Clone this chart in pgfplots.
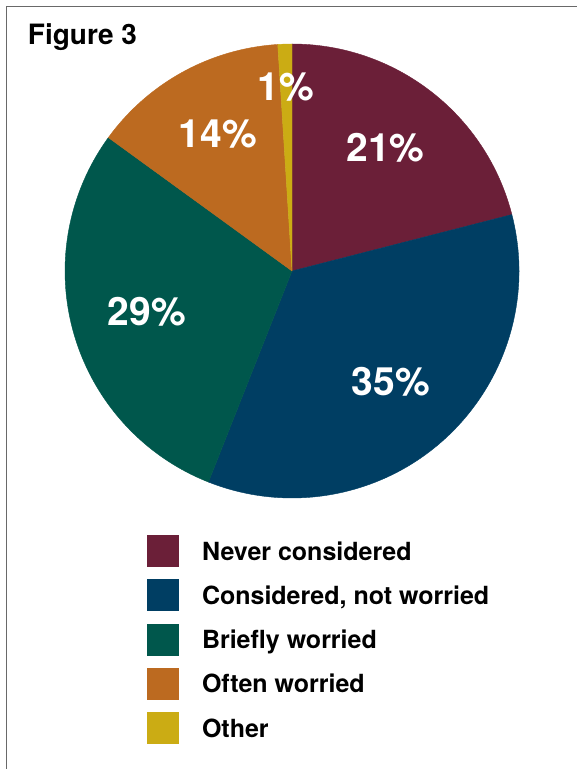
\documentclass[border=0pt]{standalone}
\usepackage{fontspec}
\setmainfont{TeX Gyre Heros}
\usepackage{pgfplots}
\usepackage{pgfplotstable}
\pgfplotsset{compat=1.18}
\definecolor{never}{RGB}{107,31,56}
\definecolor{notworried}{RGB}{0,62,99}
\definecolor{briefly}{RGB}{0,87,76}
\definecolor{often}{RGB}{188,106,32}
\definecolor{other}{RGB}{203,172,20}
\definecolor{framegray}{RGB}{105,105,105}
\tikzset{pielabel/.style={text=white, inner sep=0pt, anchor=center,
    font=\fontsize{19.5}{21}\selectfont\bfseries}}

% share (%) of each group, label position in px (x right, y down)
\pgfplotstableread[col sep=semicolon]{
label;value;color;lx;ly
Never considered;21;never;385.5;147.5
Considered, not worried;35;notworried;391;381.5
Briefly worried;29;briefly;147;311.5
Often worried;14;often;218;133.7
Other;1;other;285.5;87
}\piedata

\begin{document}
\begin{tikzpicture}
\begin{axis}[
  name=ax,
  at={(0,0)}, anchor=south west,
  scale only axis, width=288.5pt, height=384.5pt,
  xmin=0, xmax=577, ymin=0, ymax=769, y dir=reverse,
  hide axis, clip=false,
  legend style={at={(axis cs:147,535)}, anchor=north west,
    draw=none, fill=none, inner sep=0pt, outer sep=0pt,
    row sep=6.125pt, column sep=11.5pt,
    font=\fontsize{12.5}{14}\selectfont\bfseries,
    nodes={inner sep=0pt, text height=9pt, text depth=0pt}},
  legend cell align=left,
  legend image code/.code={\fill[#1, draw=none] (0pt,-8pt) rectangle (16pt,8pt);},
]
\pgfplotstablegetrowsof{\piedata}
\pgfmathtruncatemacro\N{\pgfplotsretval-1}
\def\cum{0}
\pgfplotsforeachungrouped \ii in {0,...,\N}{%
  \pgfplotstablegetelem{\ii}{value}\of\piedata \let\pv\pgfplotsretval
  \pgfplotstablegetelem{\ii}{color}\of\piedata \let\pc\pgfplotsretval
  \pgfplotstablegetelem{\ii}{label}\of\piedata \let\plab\pgfplotsretval
  \pgfmathsetmacro\pa{90-3.6*\cum}%
  \pgfmathsetmacro\cum{\cum+\pv}%
  \pgfmathsetmacro\pb{90-3.6*\cum}%
  \edef\temp{%
    \noexpand\fill[\pc, draw=\pc, line width=0.2pt] (axis cs:292,271) -- ++(\pa:113.5pt)
      arc[start angle=\pa, end angle=\pb, radius=113.5pt] -- cycle;
    \noexpand\addlegendimage{fill=\pc}
    \noexpand\addlegendentry{\plab}
  }\temp
}
\pgfplotsforeachungrouped \ii in {0,...,\N}{%
  \pgfplotstablegetelem{\ii}{value}\of\piedata \let\pv\pgfplotsretval
  \pgfplotstablegetelem{\ii}{lx}\of\piedata \let\plx\pgfplotsretval
  \pgfplotstablegetelem{\ii}{ly}\of\piedata \let\ply\pgfplotsretval
  \edef\temp{%
    \noexpand\node[pielabel] at (axis cs:\plx,\ply) {\pv\noexpand\%};
  }\temp
}
\node[anchor=base west, inner sep=0pt, font=\fontsize{14}{16}\selectfont\bfseries]
  at (axis cs:27.5,45) {Figure 3};
\draw[framegray, line width=0.75pt] (axis cs:6.5,769) -- (axis cs:6.5,6.5) -- (axis cs:577,6.5);
\end{axis}
\pgfresetboundingbox
\path (ax.south west) rectangle (ax.north east);
\end{tikzpicture}
\end{document}
